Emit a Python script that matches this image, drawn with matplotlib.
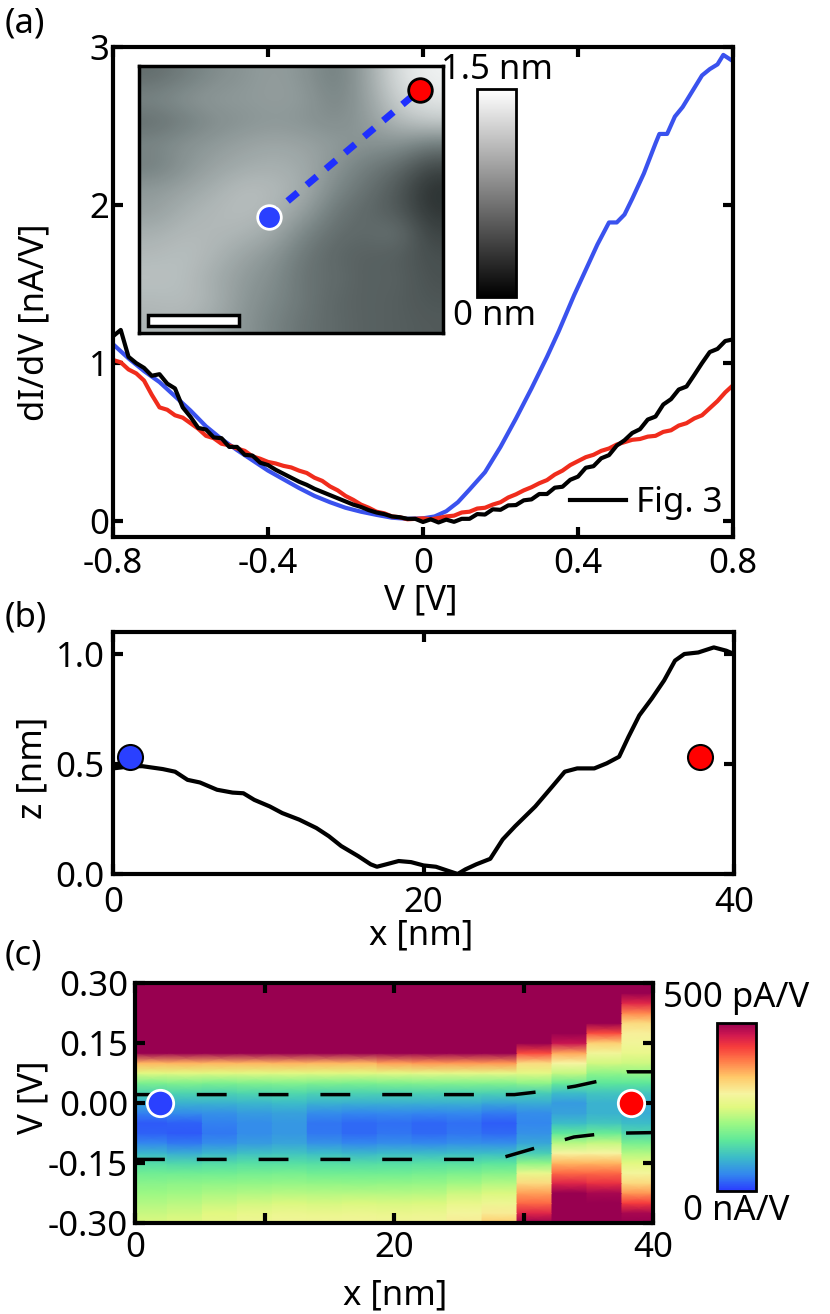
import matplotlib.pyplot as plt
import numpy as np
from matplotlib.colors import LinearSegmentedColormap, Normalize
from matplotlib.cm import ScalarMappable
from matplotlib.patches import Rectangle

plt.rcParams['font.family'] = ['Noto Sans', 'DejaVu Sans']
plt.rcParams['font.size'] = 25
plt.rcParams['axes.unicode_minus'] = False
plt.rcParams['axes.linewidth'] = 3

# ---------------- (a) dI/dV spectra ----------------
v_blue = [-0.80, -0.76, -0.72, -0.68, -0.64, -0.60, -0.56, -0.52, -0.48, -0.44,
          -0.40, -0.36, -0.32, -0.28, -0.24, -0.20, -0.16, -0.12, -0.08, -0.04,
          0.00, 0.03, 0.06, 0.09, 0.12, 0.16, 0.20, 0.24, 0.28, 0.32,
          0.35, 0.39, 0.42, 0.45, 0.48, 0.50, 0.52, 0.54, 0.57, 0.60,
          0.61, 0.63, 0.65, 0.67, 0.70, 0.72, 0.74, 0.76, 0.775, 0.80]
didv_blue = [1.12, 1.03, 0.95, 0.88, 0.79, 0.70, 0.60, 0.52, 0.45, 0.385,
             0.32, 0.265, 0.21, 0.16, 0.12, 0.085, 0.06, 0.04, 0.022, 0.015,
             0.018, 0.03, 0.063, 0.12, 0.20, 0.31, 0.47, 0.65, 0.84, 1.04,
             1.20, 1.43, 1.59, 1.75, 1.89, 1.89, 1.94, 2.04, 2.20, 2.39,
             2.45, 2.45, 2.56, 2.62, 2.74, 2.82, 2.86, 2.89, 2.95, 2.91]

v_step = [round(-0.80 + 0.02 * i, 2) for i in range(81)]

didv_red = [1.02, 1.005, 0.96, 0.935, 0.89, 0.80, 0.72, 0.705, 0.67, 0.655,
            0.62, 0.585, 0.54, 0.525, 0.49, 0.48, 0.46, 0.445, 0.41, 0.395,
            0.375, 0.365, 0.35, 0.34, 0.32, 0.305, 0.275, 0.255, 0.22, 0.195,
            0.16, 0.135, 0.105, 0.085, 0.06, 0.05, 0.03, 0.025, 0.012, 0.015,
            0.018, 0.012, 0.02, 0.03, 0.035, 0.055, 0.06, 0.08, 0.085, 0.105,
            0.12, 0.15, 0.17, 0.195, 0.215, 0.24, 0.26, 0.295, 0.32, 0.355,
            0.38, 0.405, 0.42, 0.445, 0.46, 0.485, 0.50, 0.515, 0.52, 0.535,
            0.54, 0.565, 0.575, 0.605, 0.62, 0.65, 0.67, 0.715, 0.76, 0.815, 0.86]

didv_black = [1.17, 1.21, 1.04, 1.00, 0.97, 0.92, 0.93, 0.87, 0.84, 0.72,
              0.66, 0.59, 0.58, 0.53, 0.525, 0.47, 0.47, 0.42, 0.415, 0.37,
              0.355, 0.325, 0.30, 0.275, 0.25, 0.23, 0.205, 0.185, 0.165, 0.145,
              0.125, 0.105, 0.09, 0.07, 0.055, 0.045, 0.03, 0.025, 0.015, 0.015,
              -0.005, 0.012, -0.008, 0.01, -0.004, 0.015, 0.015, 0.045, 0.042, 0.075,
              0.072, 0.10, 0.102, 0.132, 0.138, 0.172, 0.172, 0.212, 0.218, 0.262,
              0.282, 0.338, 0.348, 0.398, 0.418, 0.478, 0.512, 0.558, 0.582, 0.643,
              0.662, 0.738, 0.772, 0.833, 0.852, 0.925, 1.00, 1.07, 1.09, 1.14, 1.15]

# inset topography (fraction of 1.5 nm), rows top -> bottom
topo = [
    [0.38, 0.45, 0.52, 0.56, 0.60, 0.55, 0.45, 0.62, 0.88, 0.97],
    [0.50, 0.55, 0.58, 0.58, 0.60, 0.58, 0.48, 0.60, 0.82, 0.92],
    [0.38, 0.45, 0.52, 0.55, 0.57, 0.55, 0.52, 0.58, 0.72, 0.80],
    [0.50, 0.55, 0.58, 0.62, 0.64, 0.62, 0.58, 0.55, 0.55, 0.45],
    [0.45, 0.55, 0.62, 0.66, 0.68, 0.65, 0.55, 0.45, 0.38, 0.22],
    [0.58, 0.62, 0.68, 0.74, 0.72, 0.66, 0.50, 0.40, 0.30, 0.12],
    [0.60, 0.68, 0.72, 0.74, 0.70, 0.60, 0.42, 0.36, 0.30, 0.14],
    [0.68, 0.72, 0.72, 0.70, 0.64, 0.48, 0.38, 0.36, 0.42, 0.20],
    [0.72, 0.75, 0.70, 0.62, 0.55, 0.42, 0.35, 0.33, 0.32, 0.25],
    [0.76, 0.74, 0.66, 0.58, 0.52, 0.40, 0.38, 0.32, 0.34, 0.26],
    [0.72, 0.74, 0.68, 0.56, 0.50, 0.42, 0.35, 0.33, 0.32, 0.28],
    [0.70, 0.70, 0.64, 0.55, 0.47, 0.40, 0.36, 0.33, 0.32, 0.30],
]
inset_blue = (0.426, 0.434)
inset_red = (0.923, 0.91)
scalebar = (0.03, 0.026, 0.30, 0.041)  # x, y, w, h in inset axes fraction

# ---------------- (b) height profile ----------------
x_prof = [0.0, 1.2, 1.9, 3.2, 4.0, 4.8, 5.6, 6.7, 7.7, 8.4, 9.1, 10.1, 10.9, 12.0,
          13.1, 13.9, 14.7, 15.8, 16.6, 17.0, 17.6, 18.4, 19.2, 20.0, 20.8, 21.6,
          22.2, 22.7, 23.4, 24.3, 25.1, 25.9, 27.2, 28.3, 29.1, 29.9, 31.0, 31.8,
          32.6, 33.2, 33.9, 34.7, 35.5, 36.2, 36.8, 37.7, 38.7, 39.5, 40.0]
z_prof = [0.48, 0.49, 0.49, 0.477, 0.465, 0.428, 0.416, 0.383, 0.37, 0.367, 0.337,
          0.307, 0.277, 0.247, 0.209, 0.172, 0.127, 0.081, 0.044, 0.033, 0.044,
          0.059, 0.054, 0.039, 0.033, 0.014, 0.0, 0.021, 0.044, 0.069, 0.157,
          0.217, 0.307, 0.398, 0.465, 0.48, 0.48, 0.503, 0.533, 0.623, 0.721,
          0.797, 0.88, 0.97, 1.0, 1.007, 1.03, 1.015, 1.0]
dots_b_x = [1.1, 37.8]
dots_b_z = [0.533, 0.533]

# ---------------- (c) dI/dV map ----------------
col_edges = [0, 2.5, 5.2, 7.9, 10.6, 13.3, 16.0, 18.7, 21.4, 24.1, 26.8, 29.5,
             32.2, 34.9, 37.6, 40]
v_rows = [-0.300, -0.275, -0.250, -0.225, -0.200, -0.175, -0.150, -0.125,
          -0.100, -0.075, -0.050, -0.025, 0.000, 0.025, 0.050, 0.075, 0.100,
          0.125, 0.150, 0.175, 0.200, 0.225, 0.250, 0.275, 0.300]
T = [600] * 7  # saturated rows at the top
map_pAV = [
    [245, 232, 215, 200, 185, 165, 135, 95, 50, 25, 20, 45, 85, 125, 175, 250, 350, 515] + T,
    [250, 238, 222, 205, 188, 165, 130, 85, 40, 20, 25, 55, 90, 128, 178, 252, 352, 520] + T,
    [262, 250, 232, 212, 190, 165, 135, 95, 55, 40, 45, 60, 90, 125, 175, 250, 350, 515] + T,
    [275, 262, 240, 215, 192, 168, 140, 105, 70, 55, 55, 70, 95, 130, 178, 252, 350, 515] + T,
    [280, 268, 245, 220, 195, 170, 140, 108, 78, 65, 65, 75, 100, 132, 180, 252, 352, 518] + T,
    [280, 266, 242, 218, 192, 166, 138, 100, 60, 40, 38, 55, 90, 126, 176, 250, 350, 520] + T,
    [282, 268, 245, 218, 190, 165, 136, 95, 50, 30, 30, 50, 88, 125, 175, 250, 350, 520] + T,
    [280, 266, 244, 218, 192, 166, 138, 98, 55, 38, 35, 52, 88, 126, 178, 255, 365, 540] + T,
    [282, 268, 246, 220, 194, 168, 140, 98, 52, 30, 28, 50, 88, 126, 180, 258, 370, 545] + T,
    [300, 285, 262, 235, 205, 175, 142, 100, 58, 38, 35, 52, 88, 126, 180, 258, 370, 545] + T,
    [335, 300, 272, 245, 215, 182, 145, 100, 55, 30, 22, 42, 82, 124, 180, 258, 370, 545] + T,
    [520, 450, 400, 365, 320, 265, 190, 120, 80, 60, 50, 55, 85, 120, 190, 255, 320, 420, 540, 600, 600, 600, 600, 600, 600],
    [560, 560, 540, 500, 450, 400, 350, 290, 220, 150, 100, 75, 70, 100, 160, 230, 290, 360, 470, 560, 600, 600, 600, 600, 600],
    [580, 560, 540, 490, 440, 400, 350, 290, 230, 160, 110, 90, 90, 110, 150, 190, 240, 280, 330, 420, 540, 600, 600, 600, 600],
    [540, 490, 430, 370, 320, 285, 250, 215, 170, 130, 100, 85, 88, 110, 150, 195, 235, 265, 280, 295, 320, 380, 450, 530, 600],
]
gap_up_x = [0, 29.3, 31.7, 34.0, 36.4, 38.0, 40]
gap_up_v = [0.021, 0.021, 0.030, 0.042, 0.059, 0.078, 0.078]
gap_lo_x = [0, 27.9, 31.5, 33.9, 36.3, 40]
gap_lo_v = [-0.141, -0.141, -0.107, -0.085, -0.076, -0.074]
dots_c_x = [1.9, 38.3]
dots_c_v = [0.0, 0.0]

BLUE_LINE = '#3a52ee'
RED_LINE = '#f02c1c'
BLUE_DOT = '#2a40ff'
RED_DOT = '#ff0000'

spec = LinearSegmentedColormap.from_list('spec', [
    (0.00, '#2a3cff'), (0.10, '#3388ee'), (0.20, '#3cbcc8'), (0.30, '#5ee89a'),
    (0.40, '#9cf884'), (0.50, '#e2f880'), (0.58, '#f6f4a0'), (0.68, '#ffc868'),
    (0.78, '#ff7848'), (0.86, '#f63c3c'), (0.93, '#d01850'), (1.00, '#980050')])
topo_cmap = LinearSegmentedColormap.from_list('topo', ['#121616', '#7c8888', '#f6f8f8'])

W, H = 830.0, 1314.0


def box(l, t, r, b):
    return [l / W, 1 - b / H, (r - l) / W, (b - t) / H]


def style(ax, xpad, ypad):
    ax.tick_params(direction='in', top=True, right=True, length=7, width=3)
    ax.tick_params(axis='x', pad=xpad)
    ax.tick_params(axis='y', pad=ypad)
    for s in ax.spines.values():
        s.set_linewidth(3)


fig = plt.figure(figsize=(8.3, 13.14), dpi=100)

# ---- panel (a)
ax_a = fig.add_axes(box(113, 47, 733, 537))
ax_a.plot(v_blue, didv_blue, color=BLUE_LINE, lw=3)
ax_a.plot(v_step, didv_red, color=RED_LINE, lw=3)
ax_a.plot(v_step, didv_black, color='black', lw=3, label='Fig. 3')
ax_a.set_xlim(-0.8, 0.8)
ax_a.set_ylim(-0.1, 3.0)
ax_a.set_xticks([-0.8, -0.4, 0, 0.4, 0.8])
ax_a.set_xticklabels(['-0.8', '-0.4', '0', '0.4', '0.8'])
ax_a.set_yticks([0, 1, 2, 3])
style(ax_a, 7, 3)
ax_a.set_xlabel('V [V]', va='center')
ax_a.set_ylabel('dI/dV [nA/V]', va='center')
ax_a.xaxis.set_label_coords(0.497, -0.129)
ax_a.yaxis.set_label_coords(-0.127, 0.439)
ax_a.legend(loc='center right', bbox_to_anchor=(1.0, 0.07), frameon=False,
            handlelength=1.6, handletextpad=0.3, borderaxespad=0.2, borderpad=0.1)

ax_in = fig.add_axes(box(139, 66, 443, 333))
ax_in.imshow(topo, cmap=topo_cmap, vmin=0, vmax=1, extent=[0, 1, 0, 1],
             aspect='auto', interpolation='bicubic')
ax_in.set_xlim(0, 1)
ax_in.set_ylim(0, 1)
ax_in.set_xticks([])
ax_in.set_yticks([])
for s in ax_in.spines.values():
    s.set_linewidth(2.5)
ax_in.plot([inset_blue[0], inset_red[0]], [inset_blue[1], inset_red[1]],
           color='#1f2fff', lw=5, dashes=(1.9, 1.7))
ax_in.plot(inset_blue[0], inset_blue[1], 'o', ms=17, mfc=BLUE_DOT, mec='white', mew=2)
ax_in.plot(inset_red[0], inset_red[1], 'o', ms=17, mfc=RED_DOT, mec='black', mew=2)
ax_in.add_patch(Rectangle(scalebar[:2], scalebar[2], scalebar[3], transform=ax_in.transAxes,
                          fc='white', ec='black', lw=2.5))

cax1 = fig.add_axes(box(477, 89, 516, 297))
cb1 = fig.colorbar(ScalarMappable(norm=Normalize(0, 1.5), cmap='gray'), cax=cax1, ticks=[])
cb1.outline.set_linewidth(2)
fig.text(497 / W, 1 - 70 / H, '1.5 nm', ha='center', va='center')
fig.text(495 / W, 1 - 316 / H, '0 nm', ha='center', va='center')

# ---- panel (b)
ax_b = fig.add_axes(box(113, 632, 734, 874))
ax_b.plot(x_prof, z_prof, color='black', lw=3)
ax_b.plot(dots_b_x[0], dots_b_z[0], 'o', ms=18, mfc=BLUE_DOT, mec='black', mew=1.5, clip_on=False)
ax_b.plot(dots_b_x[1], dots_b_z[1], 'o', ms=18, mfc=RED_DOT, mec='black', mew=1.5, clip_on=False)
ax_b.set_xlim(0, 40)
ax_b.set_ylim(0, 1.1)
ax_b.set_xticks([0, 20, 40])
ax_b.set_yticks([0, 0.5, 1.0])
ax_b.set_yticklabels(['0.0', '0.5', '1.0'])
style(ax_b, 9, 6)
ax_b.set_xlabel('x [nm]', va='center')
ax_b.set_ylabel('z [nm]', va='center')
ax_b.xaxis.set_label_coords(0.496, -0.252)
ax_b.yaxis.set_label_coords(-0.129, 0.438)

# ---- panel (c)
ax_c = fig.add_axes(box(135, 983, 653, 1223))
xs = []
for i in range(len(col_edges) - 1):
    xs += [col_edges[i], col_edges[i + 1]]
X, Y = np.meshgrid(xs, v_rows)
C = np.repeat(np.array(map_pAV, dtype=float).T, 2, axis=1)
mesh = ax_c.pcolormesh(X, Y, C, cmap=spec, norm=Normalize(0, 500), shading='gouraud')
ax_c.plot(gap_up_x, gap_up_v, color='black', lw=2.5, dashes=(8.6, 9.2))
ax_c.plot(gap_lo_x, gap_lo_v, color='black', lw=2.5, dashes=(8.6, 9.2))
ax_c.plot(dots_c_x[0], dots_c_v[0], 'o', ms=19, mfc=BLUE_DOT, mec='white', mew=2)
ax_c.plot(dots_c_x[1], dots_c_v[1], 'o', ms=19, mfc=RED_DOT, mec='white', mew=2)
ax_c.set_xlim(0, 40)
ax_c.set_ylim(-0.3, 0.3)
ax_c.set_xticks([0, 10, 20, 30, 40])
ax_c.set_xticklabels(['0', '', '20', '', '40'])
ax_c.set_yticks([-0.3, -0.15, 0, 0.15, 0.3])
ax_c.set_yticklabels(['-0.30', '-0.15', '0.00', '0.15', '0.30'])
style(ax_c, 6, 5)
ax_c.set_xlabel('x [nm]', va='center')
ax_c.set_ylabel('V [V]', va='center')
ax_c.xaxis.set_label_coords(0.502, -0.30)
ax_c.yaxis.set_label_coords(-0.197, 0.525)

cax2 = fig.add_axes(box(717, 1023, 756, 1191))
cb2 = fig.colorbar(mesh, cax=cax2, ticks=[])
cb2.outline.set_linewidth(2)
fig.text(736 / W, 1 - 998 / H, '500 pA/V', ha='center', va='center')
fig.text(736 / W, 1 - 1211 / H, '0 nA/V', ha='center', va='center')

fig.text(5 / W, 1 - 6 / H, '(a)', ha='left', va='top')
fig.text(5 / W, 1 - 600 / H, '(b)', ha='left', va='top')
fig.text(5 / W, 1 - 938 / H, '(c)', ha='left', va='top')

fig.savefig('out.png', dpi=100)
